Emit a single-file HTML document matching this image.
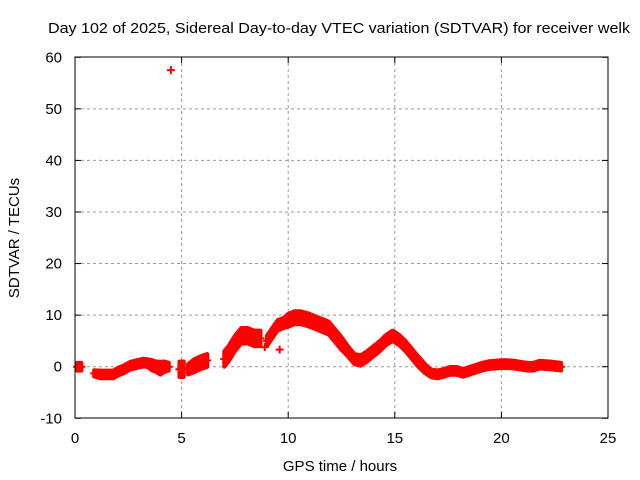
<!DOCTYPE html>
<html><head><meta charset="utf-8"><style>
body{margin:0;background:#fff}
svg{display:block;font-family:"Liberation Sans",sans-serif;font-size:14px}
</style></head><body>
<svg id="c" width="640" height="480">
<text x="48" y="33" font-size="15" textLength="582" lengthAdjust="spacingAndGlyphs">Day 102 of 2025, Sidereal Day-to-day VTEC variation (SDTVAR) for receiver welk</text>
<text x="340" y="471" text-anchor="middle" font-size="15">GPS time / hours</text>
<text transform="translate(19,238) rotate(-90)" text-anchor="middle" font-size="15">SDTVAR / TECUs</text>
<g id="grid"></g><g id="ticks"></g><g id="data"></g>
<rect x="75" y="57" width="533" height="361" fill="none" stroke="#000" stroke-width="1"/>
</svg>
<script>
const xTicks=[0,5,10,15,20,25];
const yTicks=[-10,0,10,20,30,40,50,60];
const hours=[0.1,0.3,null,0.9,1.2,1.5,1.8,2.0,2.3,2.6,2.9,3.2,3.4,3.6,3.8,4.0,4.2,4.4,null,4.9,5.1,null,5.3,5.6,5.9,6.2,null,7.0,7.2,7.5,7.8,8.1,8.4,8.7,null,9.0,9.5,9.8,10.0,10.3,10.6,11.0,11.3,11.6,11.9,12.2,12.5,12.8,13.1,13.4,13.7,14.0,14.3,14.6,14.9,15.2,15.5,15.8,16.1,16.4,16.7,17.0,17.3,17.6,17.9,18.2,18.5,18.8,19.1,19.4,19.7,20.0,20.3,20.6,20.9,21.2,21.5,21.8,22.1,22.4,22.8];
const values=[0,0,null,-1.3,-1.5,-1.5,-1.5,-1.0,-0.5,0.2,0.5,0.8,0.7,0.3,0,-0.3,0,0,null,-0.5,-0.5,null,-0.5,0.2,0.8,1.2,null,1.5,2.5,4.5,6,6,5.5,5.5,null,5,8,8.5,9,9.5,9.5,9,8.5,8,7.5,6,4.5,3,1.5,1.2,2,3,4,5.2,6,5.2,4,2.5,1,-0.3,-1.3,-1.5,-1.2,-0.8,-0.8,-1.2,-0.8,-0.4,0,0.3,0.4,0.5,0.5,0.4,0.2,0,0,0.4,0.3,0.2,0];
const spreads=[1.5,1.5,null,1.2,1.5,1.5,1.5,1.5,1.5,1.5,1.5,1.5,1.5,2,2,2.5,2,1.5,null,3,3,null,2,2.5,2.5,2.5,null,3,3,3,3,3,3,3,null,2,2,2,2.5,2.5,2.5,2.5,2.5,2.5,2.5,2.5,2.5,2,2,2,2,2,2,2,2,2,2,2,2,1.8,1.5,1.5,1.5,1.5,1.5,1.5,1.5,1.5,1.5,1.5,1.5,1.5,1.5,1.5,1.5,1.5,1.5,1.5,1.5,1.5,1.5];
const outHours=[4.5,9.6,8.9];
const outValues=[57.5,3.3,3.8];
const NS="http://www.w3.org/2000/svg";
const X=h=>75+h*(533/25);
const Y=v=>366.7-v*(361/70);
function mk(t,a,p){const e=document.createElementNS(NS,t);for(const k in a)e.setAttribute(k,a[k]);p.appendChild(e);return e;}
const grid=document.getElementById('grid'),ticks=document.getElementById('ticks'),data=document.getElementById('data');
xTicks.forEach(t=>{const x=X(t);
 if(t>0&&t<25){const l=mk('line',{x1:x,x2:x,y1:57,y2:418,stroke:'#999','stroke-dasharray':'3,3'},grid);
 
 }
 mk('line',{x1:x,x2:x,y1:418,y2:412,stroke:'#000'},ticks);mk('line',{x1:x,x2:x,y1:57,y2:63,stroke:'#000'},ticks);
 const tx=mk('text',{x:x,y:443,'text-anchor':'middle','font-size':15},ticks);tx.textContent=t;
 
 });
yTicks.forEach(t=>{const y=Y(t);
 if(t>-10&&t<60){const l=mk('line',{x1:75,x2:608,y1:y,y2:y,stroke:'#999','stroke-dasharray':'3,3'},grid);
 
 }
 mk('line',{x1:75,x2:81,y1:y,y2:y,stroke:'#000'},ticks);mk('line',{x1:608,x2:602,y1:y,y2:y,stroke:'#000'},ticks);
 const tx=mk('text',{x:62,y:y+5,'text-anchor':'end','font-size':15},ticks);tx.textContent=t;
 
 });
let seg=[];
function flush(){if(seg.length>1){const top=seg.map(i=>X(hours[i])+','+Y(values[i]+spreads[i]/2));
 const bot=seg.slice().reverse().map(i=>X(hours[i])+','+Y(values[i]-spreads[i]/2));
 const p=mk('polygon',{points:top.concat(bot).join(' '),fill:'#f00',stroke:'#f00','stroke-width':4,'stroke-linejoin':'round'},data);
 
 }seg=[];}
hours.forEach((h,i)=>{if(h===null){flush();return;}seg.push(i);});flush();
function plus(h,v){const x=X(h),y=Y(v);
 const p=mk('path',{d:`M${x-4},${y}H${x+4}M${x},${y-4}V${y+4}`,stroke:'#f00','stroke-width':2},data);
 
 }
hours.forEach((h,i)=>{if(h!==null)plus(h,values[i]);});
outHours.forEach((h,i)=>plus(h,outValues[i]));
</script>
</body></html>
